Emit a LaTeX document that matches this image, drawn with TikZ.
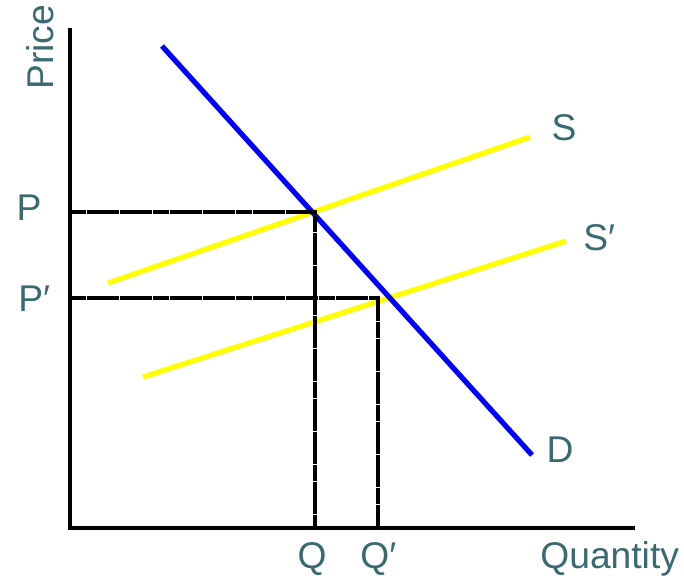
\documentclass[tikz,border=0pt]{standalone}
\usepackage{fontspec}
\setmainfont{Liberation Sans}
\definecolor{labelteal}{RGB}{56,106,112}
\definecolor{supplyyellow}{RGB}{255,255,0}
\begin{document}
\begin{tikzpicture}[x=0.5pt, y=-0.5pt, line join=miter,
		lbl/.style={text=labelteal, font=\fontsize{18.6}{21}\selectfont, inner sep=0pt, anchor=base},
		guide/.style={black, line width=1.8pt, dash pattern=on 8pt off 0.3pt},
		curve/.style={line width=2.6pt}]
	% Window (pixels of the original figure)
	\useasboundingbox (0,0) rectangle (684,580);
	
	% Axes
	\coordinate (O) at (70,528);
	\coordinate (ytop) at (70,28);
	\coordinate (xend) at (635,528);
	\draw[black, line width=2pt] (ytop) -- (O) -- (xend);
	
	% Supply curves: S and shifted S'
	\coordinate (S0) at (108,283);   \coordinate (S1) at (530,137);
	\coordinate (T0) at (143,377);   \coordinate (T1) at (566,241);
	\draw[supplyyellow, curve] (S0) -- (S1);
	\draw[supplyyellow, curve] (T0) -- (T1);
	
	% Demand curve
	\coordinate (D0) at (162,46);    \coordinate (D1) at (532,455);
	\draw[blue, curve] (D0) -- (D1);
	
	% Equilibria and guide lines
	\coordinate (E) at (315,212);    \coordinate (F) at (378,298);
	\coordinate (Pax) at (70,212);   \coordinate (Ppax) at (70,298);
	\coordinate (Qax) at (315,528);  \coordinate (Qpax) at (378,528);
	\draw[guide] (Pax) -- (E) -- (Qax);
	\draw[guide] (Ppax) -- (F) -- (Qpax);
	
	% Labels
	\node[lbl, rotate=90, anchor=base west] (price) at (53,90) {Price};
	\node[lbl] (Plbl) at (29,220) {P};
	\node[lbl, anchor=base west] (Pplbl) at (18,311) {P′};
	\node[lbl] (Qlbl) at (312,568) {Q};
	\node[lbl, anchor=base west] (Qplbl) at (360,568) {Q′};
	\node[lbl, anchor=base west] (qty) at (540,568) {Quantity};
	\node[lbl] (Slbl) at (564,140) {S};
	\node[lbl, anchor=base west] (Splbl) at (583,250) {S′};
	\node[lbl] (Dlbl) at (560,462) {D};
\end{tikzpicture}
\end{document}
